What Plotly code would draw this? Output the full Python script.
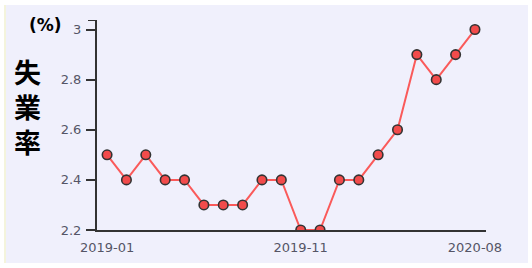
import plotly.graph_objects as go

months = ["2019-01","2019-02","2019-03","2019-04","2019-05","2019-06","2019-07","2019-08",
          "2019-09","2019-10","2019-11","2019-12","2020-01","2020-02","2020-03","2020-04",
          "2020-05","2020-06","2020-07","2020-08"]
rates = [2.5, 2.4, 2.5, 2.4, 2.4, 2.3, 2.3, 2.3, 2.4, 2.4, 2.2, 2.2, 2.4, 2.4, 2.5, 2.6,
         2.9, 2.8, 2.9, 3.0]
y_ticks = [2.2, 2.4, 2.6, 2.8, 3.0]
y_tick_text = ["2.2", "2.4", "2.6", "2.8", "3"]
x_tick_labels = ["2019-01", "2019-11", "2020-08"]
title_chars = ["失", "業", "率"]
unit_label = "(%)"

W, H = 532, 268
L, R, T, B = 97, 46, 20, 38
pw, ph = W - L - R, H - T - B

def px2x(px):
    return (px - L) / pw

def py2y(py):
    return (H - B - py) / ph

fig = go.Figure()
fig.add_trace(go.Scatter(
    x=list(range(len(months))), y=rates, mode="lines+markers",
    line=dict(color="#fa5a5a", width=2),
    marker=dict(size=9.5, color="#f24b4b", line=dict(color="#333333", width=1.6)),
    hoverinfo="skip", showlegend=False,
))

tickvals = [months.index(m) for m in x_tick_labels]

fig.update_layout(
    width=W, height=H,
    margin=dict(l=L, r=R, t=T, b=B, pad=0),
    paper_bgcolor="white",
    plot_bgcolor="rgba(0,0,0,0)",
    font=dict(family="DejaVu Sans", size=13, color="#555555"),
    xaxis=dict(range=[-0.52, 19.57], tickvals=tickvals, ticktext=x_tick_labels,
               showgrid=False, zeroline=False, showline=True, linecolor="#333333",
               linewidth=2, ticks="", ticklabelstandoff=4,
               tickfont=dict(size=13, color="#555566")),
    yaxis=dict(range=[2.2, 3.038], tickvals=y_ticks, ticktext=y_tick_text,
               showgrid=False, zeroline=False, showline=True, linecolor="#333333",
               linewidth=2, ticks="outside", ticklen=9, tickwidth=2, tickcolor="#333333",
               ticklabelstandoff=2,
               tickfont=dict(size=13, color="#555566")),
    shapes=[
        dict(type="rect", xref="paper", yref="paper", layer="below",
             x0=px2x(5), x1=px2x(528), y0=py2y(263), y1=py2y(5),
             fillcolor="#f0f0fc", line=dict(width=0)),
        dict(type="line", xref="paper", yref="paper",
             x0=px2x(5), x1=px2x(5), y0=py2y(263), y1=py2y(5),
             line=dict(color="#f4f4dc", width=2)),
        dict(type="line", xref="paper", yref="y",
             x0=px2x(88), x1=0, y0=3.038, y1=3.038,
             line=dict(color="#333333", width=2)),
    ],
)

fig.add_annotation(text="<br>".join(title_chars), xref="paper", yref="paper",
                   x=px2x(27), y=py2y(106), showarrow=False,
                   xanchor="center", yanchor="middle",
                   font=dict(family="Noto Sans CJK JP", size=27, color="black",
                             weight="bold"))
fig.add_annotation(text="<b>" + unit_label + "</b>", xref="paper", yref="paper",
                   x=px2x(45), y=py2y(25), showarrow=False,
                   xanchor="center", yanchor="middle",
                   font=dict(family="DejaVu Sans", size=17, color="black"))

fig.write_html("out.html")
